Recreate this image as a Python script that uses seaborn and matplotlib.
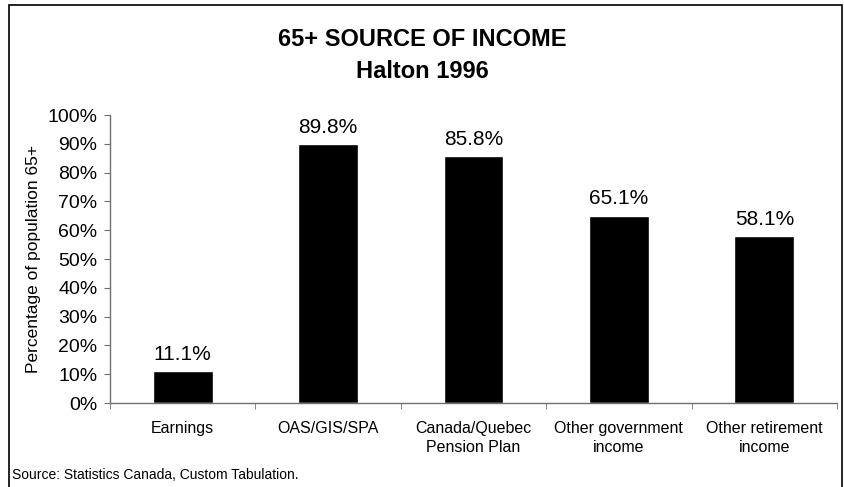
import matplotlib.pyplot as plt
import matplotlib.patches as mpatches
import pandas as pd
import seaborn as sns

categories = ["Earnings", "OAS/GIS/SPA", "Canada/Quebec\nPension Plan",
              "Other government\nincome", "Other retirement\nincome"]
values = [11.1, 89.8, 85.8, 65.1, 58.1]
yticks = list(range(0, 101, 10))

df = pd.DataFrame({"source": categories, "pct": values})

sns.set_style("white")
plt.rcParams["font.family"] = ["Liberation Sans", "DejaVu Sans"]
plt.rcParams["text.color"] = "black"
plt.rcParams["axes.labelcolor"] = "black"
plt.rcParams["xtick.color"] = "black"
plt.rcParams["ytick.color"] = "black"

W, H = 844, 487
fig = plt.figure(figsize=(W / 100, H / 100), dpi=100)
# axes box in pixels: left 110, right 837, top 115, bottom 403
ax = fig.add_axes([110 / W, 1 - 403 / H, 727 / W, 288 / H])

sns.barplot(data=df, x="source", y="pct", color="black", width=0.41,
            saturation=1, ax=ax)

ax.set_ylim(0, 100)
ax.set_xlim(-0.5, len(categories) - 0.5)
ax.set_yticks(yticks)
ax.set_yticklabels([f"{t}%" for t in yticks], fontsize=14)
ax.set_xticks(range(len(categories)))
ax.set_xticklabels(categories, fontsize=11.5, linespacing=1.35)
ax.tick_params(axis="x", length=0, pad=13)
ax.tick_params(axis="y", length=4.5, direction="out", left=True, color="#707070", pad=4.5)
# ticks between categories on x axis
ax.set_xticks([i - 0.5 for i in range(len(categories) + 1)], minor=True)
ax.tick_params(axis="x", which="minor", length=4.5, direction="out", bottom=True, color="#707070")
ax.set_xlabel("")
ax.set_ylabel("Percentage of population 65+", fontsize=12.5, labelpad=5)

for side in ["top", "right"]:
    ax.spines[side].set_visible(False)
for side in ["left", "bottom"]:
    ax.spines[side].set_color("#707070")
    ax.spines[side].set_linewidth(1)

for i, v in enumerate(values):
    ax.annotate(f"{v:.1f}%", (i, v), xytext=(0, 8), textcoords="offset points",
                ha="center", va="baseline", fontsize=15)

fig.text(0.5, 1 - 39 / H, "65+ SOURCE OF INCOME", ha="center", va="center",
         fontsize=17, fontweight="bold")
fig.text(0.5, 1 - 71 / H, "Halton 1996", ha="center", va="center",
         fontsize=17, fontweight="bold")
fig.text(12 / W, 1 - 475 / H, "Source: Statistics Canada, Custom Tabulation.",
         ha="left", va="center", fontsize=10)

# outer chart border
fig.patches.append(mpatches.Rectangle((9 / W, -0.01), (833 / W), 1.01 - 5 / H,
                                      transform=fig.transFigure, fill=False,
                                      edgecolor="black", linewidth=1.2))

fig.savefig("out.png", dpi=100)
